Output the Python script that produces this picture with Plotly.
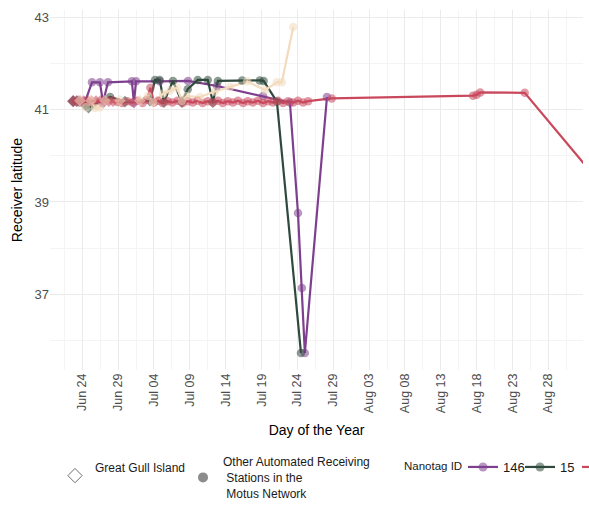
import plotly.graph_objects as go

# ---------------- data ----------------
tag_ids = ["146", "15", "16", "17"]
tag_colors = ["#7E3F8E", "#2F4A3D", "#C9485C", "#F3DBBD"]

# Nanotag 146
t146_time = ["2023-06-22 18:30", "2023-06-23 13:00", "2023-06-24 09:00", "2023-06-25 08:30",
             "2023-06-26 11:00", "2023-06-26 21:30", "2023-06-27 14:00", "2023-06-30 22:00",
             "2023-07-01 05:00", "2023-07-01 12:00", "2023-07-04 19:00", "2023-07-08 18:00",
             "2023-07-12 19:00", "2023-07-19 05:00", "2023-07-22 23:00", "2023-07-24 02:00",
             "2023-07-24 15:00", "2023-07-25 01:00", "2023-07-28 03:00"]
t146_lat = [41.19, 41.19, 41.17, 41.60, 41.60, 41.16, 41.60, 41.62, 41.16, 41.62,
            41.62, 41.63, 41.52, 41.30, 41.16, 38.76, 37.13, 35.72, 41.28]
t146_site = ["GGI", "GGI", "GGI", "O", "O", "GGI", "O", "O", "GGI", "O",
             "O", "O", "O", "O", "O", "O", "O", "O", "O"]

# Nanotag 15
t15_time = ["2023-06-22 17:00", "2023-06-23 06:00", "2023-06-24 12:00", "2023-06-24 21:00",
            "2023-06-27 21:00", "2023-06-29 23:00", "2023-07-03 10:30", "2023-07-04 03:30",
            "2023-07-04 19:00", "2023-07-05 09:30", "2023-07-06 15:30", "2023-07-07 21:30",
            "2023-07-08 17:00", "2023-07-10 02:30", "2023-07-11 12:00", "2023-07-12 05:00",
            "2023-07-12 22:00", "2023-07-16 07:00", "2023-07-18 18:00", "2023-07-19 07:00",
            "2023-07-21 03:30", "2023-07-24 12:00"]
t15_lat = [41.19, 41.19, 41.10, 41.05, 41.28, 41.18, 41.20, 41.65, 41.65, 41.17, 41.63,
           41.17, 41.45, 41.65, 41.65, 41.17, 41.63, 41.64, 41.64, 41.63, 41.18, 35.72]
t15_site = ["GGI", "GGI", "GGI", "GGI", "O", "GGI", "GGI", "O", "O", "GGI", "O",
            "GGI", "O", "O", "O", "GGI", "O", "O", "O", "O", "O", "O"]

# Nanotag 16
t16_time = ["2023-06-22 17:00", "2023-06-23 05:00", "2023-06-23 17:00", "2023-06-24 05:00",
            "2023-06-24 19:00", "2023-06-25 07:00", "2023-06-25 22:00", "2023-06-26 12:00",
            "2023-06-27 02:00", "2023-06-27 17:00", "2023-06-28 07:00",
            "2023-06-28 22:00", "2023-06-29 14:00", "2023-06-30 07:00", "2023-07-01 00:00",
            "2023-07-01 17:00", "2023-07-02 10:00", "2023-07-03 00:00", "2023-07-03 12:00",
            "2023-07-04 00:00", "2023-07-04 14:00", "2023-07-05 05:00", "2023-07-05 22:00",
            "2023-07-06 14:00", "2023-07-07 07:00", "2023-07-08 00:00", "2023-07-08 17:00",
            "2023-07-09 10:00", "2023-07-10 02:00", "2023-07-10 19:00", "2023-07-11 12:00",
            "2023-07-12 05:00", "2023-07-12 22:00", "2023-07-13 14:00", "2023-07-14 07:00",
            "2023-07-15 00:00", "2023-07-15 17:00", "2023-07-16 10:00", "2023-07-17 02:00",
            "2023-07-17 19:00", "2023-07-18 12:00", "2023-07-19 05:00", "2023-07-19 22:00",
            "2023-07-20 14:00", "2023-07-21 07:00", "2023-07-22 00:00", "2023-07-22 17:00",
            "2023-07-23 10:00", "2023-07-24 02:00", "2023-07-24 19:00", "2023-07-25 12:00",
            "2023-07-28 19:00", "2023-08-17 12:00", "2023-08-18 00:00", "2023-08-18 12:00",
            "2023-08-24 17:00", "2023-09-09 22:00"]
t16_lat = [41.19, 41.19, 41.19, 41.19, 41.19, 41.19, 41.19, 41.19, 41.19, 41.19, 41.19,
           41.17, 41.15, 41.19, 41.16, 41.20, 41.15, 41.22, 41.48, 41.16, 41.20, 41.15,
           41.19, 41.16, 41.20, 41.15, 41.19, 41.16, 41.20, 41.15, 41.19, 41.16, 41.20,
           41.15, 41.19, 41.16, 41.20, 41.15, 41.19, 41.16, 41.20, 41.15, 41.19, 41.16,
           41.20, 41.15, 41.19, 41.16, 41.20, 41.16, 41.19, 41.25, 41.31, 41.33, 41.38,
           41.37, 38.35]
t16_site = ["GGI"] * 11 + ["O"] * 46

# Nanotag 17
t17_time = ["2023-06-23 16:00", "2023-06-24 12:30", "2023-06-25 05:00", "2023-06-25 18:30",
            "2023-06-26 11:00", "2023-06-27 04:00", "2023-06-29 06:00", "2023-07-02 01:00",
            "2023-07-03 04:00", "2023-07-03 21:00", "2023-07-05 06:30", "2023-07-06 06:00",
            "2023-07-07 05:00", "2023-07-07 21:30", "2023-07-08 14:00", "2023-07-10 10:00",
            "2023-07-12 12:00", "2023-07-14 15:00", "2023-07-17 00:00", "2023-07-19 12:00",
            "2023-07-21 03:00", "2023-07-21 20:00", "2023-07-23 10:00"]
t17_lat = [41.20, 41.06, 41.20, 41.04, 41.05, 41.20, 41.20, 41.20, 41.30, 41.17, 41.35,
           41.42, 41.48, 41.20, 41.30, 41.28, 41.40, 41.50, 41.62, 41.43, 41.60, 41.60, 42.80]
t17_site = ["GGI", "O", "GGI", "O", "O", "GGI", "GGI", "GGI", "O", "O", "O",
            "O", "O", "O", "O", "O", "O", "O", "O", "O", "O", "O", "O"]

series_time = [t146_time, t15_time, t16_time, t17_time]
series_lat = [t146_lat, t15_lat, t16_lat, t17_lat]
series_site = [t146_site, t15_site, t16_site, t17_site]

site_labels = ["Great Gull Island",
               "Other Automated Receiving<br> Stations in the<br> Motus Network"]
legend_title = "Nanotag ID"

y_ticks = [37, 39, 41, 43]
y_minor = [36, 38, 40, 42]

# ---------------- figure ----------------
FONT = "Liberation Sans, Arial, sans-serif"
W, H = 720, 508
PL, PR, PT, PB = 50, 583, 10, 370
DAY = 86400000
pw = PR - PL
ph = PB - PT


def px_x(p):
    return (p - PL) / pw


def px_y(p):
    return (PB - p) / ph


fig = go.Figure()

# lines layer
for tid, col, tx, ty in zip(tag_ids, tag_colors, series_time, series_lat):
    fig.add_trace(go.Scatter(x=tx, y=ty, mode="lines",
                             line=dict(color=col, width=2.2),
                             showlegend=False, hoverinfo="skip"))

# points layer
sym_map = {"GGI": "diamond", "O": "circle"}
for tid, col, tx, ty, ts in zip(tag_ids, tag_colors, series_time, series_lat, series_site):
    fig.add_trace(go.Scatter(x=tx, y=ty, mode="markers",
                             marker=dict(color=col, size=[9 if s == "GGI" else 8.5 for s in ts],
                                         symbol=[sym_map[s] for s in ts],
                                         opacity=0.55, line=dict(width=0)),
                             showlegend=False, name=tid))

# shape legends
fig.add_trace(go.Scatter(x=[None], y=[None], mode="markers", name=site_labels[0] + "<br> ",
                         marker=dict(symbol="diamond-open", color="#6E6E6E", size=11,
                                     line=dict(width=1)),
                         legend="legend"))
fig.add_trace(go.Scatter(x=[None], y=[None], mode="markers", name=site_labels[1],
                         marker=dict(symbol="circle", color="#7F7F7F", size=10, opacity=0.9),
                         legend="legend3"))

# Nanotag legend
for tid, col in zip(tag_ids, tag_colors):
    fig.add_trace(go.Scatter(x=[None], y=[None], mode="lines+markers", name=tid,
                             line=dict(color=col, width=2.2),
                             marker=dict(color=col, size=9, opacity=0.55),
                             legend="legend2"))

fig.update_layout(
    width=W, height=H,
    margin=dict(l=PL, r=W - PR, t=PT, b=H - PB, autoexpand=False),
    paper_bgcolor="white", plot_bgcolor="white",
    font=dict(family=FONT, size=12, color="#000000"),
    legend=dict(orientation="h", x=px_x(55), xanchor="left",
                y=px_y(453.5), yanchor="top",
                font=dict(size=12, color="#1a1a1a"), valign="middle",
                itemwidth=30, bgcolor="rgba(0,0,0,0)"),
    legend3=dict(orientation="h", x=px_x(183), xanchor="left",
                 y=px_y(447.5), yanchor="top",
                 font=dict(size=12, color="#1a1a1a"), valign="middle",
                 itemwidth=30, bgcolor="rgba(0,0,0,0)"),
    legend2=dict(orientation="h", x=px_x(463), xanchor="left",
                 y=px_y(452), yanchor="top",
                 font=dict(size=13, color="#1a1a1a"),
                 itemwidth=30, entrywidth=12, bgcolor="rgba(0,0,0,0)"),
    showlegend=True,
    annotations=[dict(text=legend_title, xref="paper", yref="paper",
                      x=px_x(402), y=px_y(466), xanchor="left", yanchor="middle",
                      showarrow=False, font=dict(size=11.5, color="#1a1a1a"))],
)

fig.update_xaxes(
    type="date",
    range=["2023-06-19 12:00", "2023-09-01 20:00"],
    tick0="2023-06-24", dtick=5 * DAY, tickformat="%b %d", tickangle=-90,
    ticks="", showline=False, zeroline=False,
    showgrid=True, gridcolor="#EBEBEB", gridwidth=1.2,
    minor=dict(tick0="2023-06-21 12:00", dtick=5 * DAY, showgrid=True,
               gridcolor="#F4F4F4", gridwidth=0.8),
    tickfont=dict(size=12.5, color="#4D4D4D", family=FONT),
    title=dict(text="Day of the Year", font=dict(size=14, color="#000000"), standoff=13),
)

fig.update_yaxes(
    range=[35.35, 43.17],
    tickvals=y_ticks, ticktext=[str(v) for v in y_ticks],
    ticks="", showline=False, zeroline=False,
    showgrid=True, gridcolor="#EBEBEB", gridwidth=1.2,
    minor=dict(tickvals=y_minor, showgrid=True, gridcolor="#F4F4F4", gridwidth=0.8),
    tickfont=dict(size=13, color="#4D4D4D", family=FONT),
    title=dict(text="Receiver latitude", font=dict(size=14, color="#000000"), standoff=8),
)

fig.write_html(
    "out.html",
    config={"displayModeBar": False},
    post_script="document.body.style.margin='0px';"
                "document.body.style.overflow='hidden';"
                "document.documentElement.style.overflow='hidden';",
)
